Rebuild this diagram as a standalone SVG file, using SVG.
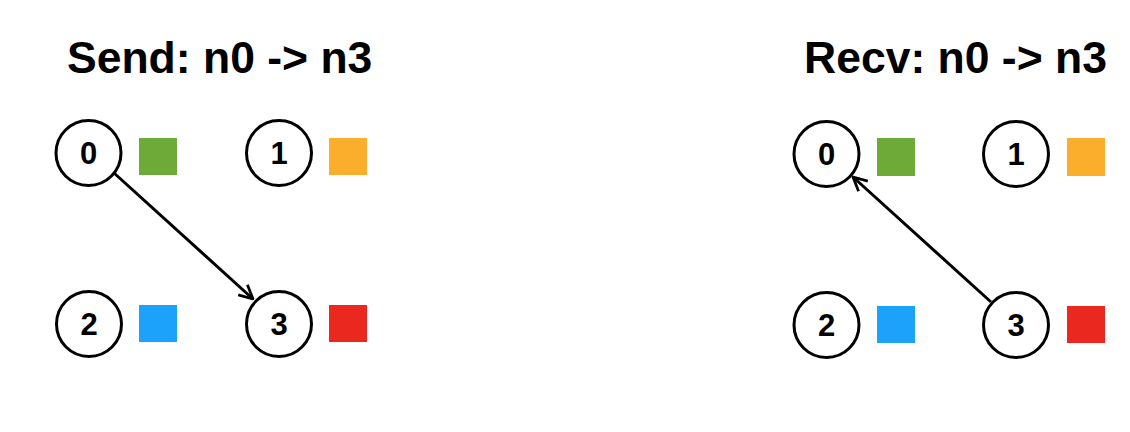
<svg xmlns="http://www.w3.org/2000/svg" width="1130" height="432" viewBox="0 0 1130 432">
<defs>
<style>
.title{font-family:"Liberation Sans",Arial,sans-serif;font-weight:bold;font-size:44.5px;fill:#000}
.node circle{fill:#fff;stroke:#000;stroke-width:3}
.node text{font-family:"Liberation Sans",Arial,sans-serif;font-weight:bold;font-size:31px;fill:#000;text-anchor:middle}
.edge{stroke:#000;stroke-width:3;fill:none;marker-end:url(#arr)}
</style>
<marker id="arr" viewBox="0 0 12 12" refX="11" refY="6" markerWidth="5.5" markerHeight="5.5" markerUnits="strokeWidth" orient="auto">
<path d="M1,1 L11,6 L1,11" fill="none" stroke="#000" stroke-width="2"/>
</marker>
</defs>
<rect width="1130" height="432" fill="#fff"/>
<text class="title" x="67" y="73">Send: n0 -&gt; n3</text>
<text class="title" x="804" y="73">Recv: n0 -&gt; n3</text>
<g id="connectors">
<line class="edge" x1="114" y1="173" x2="253" y2="299"/>
<line class="edge" x1="991" y1="302" x2="853" y2="177"/>
</g>
<g id="L0" class="node"><circle cx="88.5" cy="153" r="32.5"/><text x="88.5" y="164">0</text></g>
<rect id="L0c" x="139" y="138" width="38" height="37" fill="#6EAA38"/>
<g id="L1" class="node"><circle cx="279" cy="153" r="32.5"/><text x="279" y="164">1</text></g>
<rect id="L1c" x="329" y="138" width="38" height="37" fill="#FBAD2C"/>
<g id="L2" class="node"><circle cx="89" cy="324" r="32.5"/><text x="89" y="335">2</text></g>
<rect id="L2c" x="139" y="305" width="38" height="37" fill="#1DA2FB"/>
<g id="L3" class="node"><circle cx="279" cy="324" r="32.5"/><text x="279" y="335">3</text></g>
<rect id="L3c" x="329" y="305" width="38" height="37" fill="#EA281F"/>
<g id="R0" class="node"><circle cx="826.5" cy="154" r="32.5"/><text x="826.5" y="165">0</text></g>
<rect id="R0c" x="877" y="138" width="38" height="38" fill="#6EAA38"/>
<g id="R1" class="node"><circle cx="1016" cy="154" r="32.5"/><text x="1016" y="165">1</text></g>
<rect id="R1c" x="1067" y="138" width="38" height="38" fill="#FBAD2C"/>
<g id="R2" class="node"><circle cx="826.5" cy="325" r="32.5"/><text x="826.5" y="336">2</text></g>
<rect id="R2c" x="877" y="306" width="38" height="37" fill="#1DA2FB"/>
<g id="R3" class="node"><circle cx="1016" cy="325" r="32.5"/><text x="1016" y="336">3</text></g>
<rect id="R3c" x="1067" y="306" width="38" height="37" fill="#EA281F"/>
</svg>
